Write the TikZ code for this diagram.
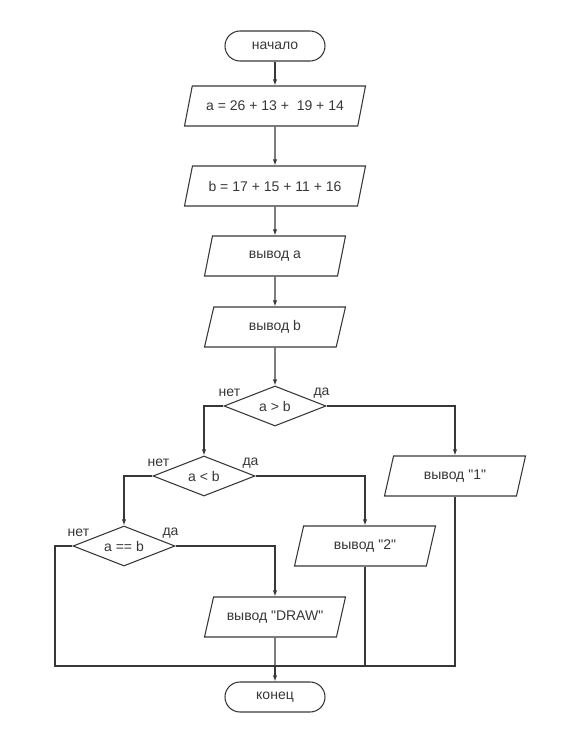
\documentclass[tikz,border=0pt]{standalone}
\usepackage{fontspec}
\setmainfont{Liberation Sans}
\usepackage{tikz}
\usetikzlibrary{arrows.meta,shapes.geometric}
\usepackage{xcolor}
\definecolor{linegray}{RGB}{55, 55, 55}

\begin{document}
\begin{tikzpicture}[x=0.75pt, y=-0.75pt, >={Latex[length=4.5pt,width=3.2pt]},
    every node/.style={font=\fontsize{10.5}{12}\selectfont, text=linegray},
    line/.style={draw=linegray, line width=0.8pt},
    term/.style={line, rectangle, rounded corners=11.25pt, minimum width=75pt, minimum height=22.5pt},
    io/.style={line, trapezium, trapezium left angle=63, trapezium right angle=117,
      trapezium stretches body, minimum width=105.75pt, minimum height=30pt, inner sep=2pt},
    iowide/.style={io, minimum width=135.75pt},
    cond/.style={line, diamond, aspect=2.55, inner sep=0pt, minimum width=76.5pt, minimum height=30pt},
    lbl/.style={inner sep=1pt}]
      \useasboundingbox (0,0) rectangle (581,748);
      % main column
      \node[term] (start) at (275, 46) {начало};
      \node[iowide] (seta) at (275, 106) {a = 26 + 13 + \ 19 + 14};
      \node[iowide] (setb) at (275, 186) {b = 17 + 15 + 11 + 16};
      \node[io] (outa) at (275, 256) {вывод a};
      \node[io] (outb) at (275, 327) {вывод b};
      \node[cond] (gt) at (275, 406) {a > b};
      \node[cond] (lt) at (204, 476) {a < b};
      \node[cond] (eq) at (124, 546) {a == b};
      \node[io] (out1) at (455, 476) {вывод \textquotedbl1\textquotedbl};
      \node[io] (out2) at (365, 546) {вывод \textquotedbl2\textquotedbl};
      \node[io] (outdraw) at (275, 617) {вывод \textquotedbl DRAW\textquotedbl};
      \node[term] (stop) at (275, 697) {конец};
      \coordinate (join) at (275, 666);
      \coordinate (joinleft) at (55, 666);
      % branch labels
      \node[lbl] (gtno) at ([shift={(6,-13)}]gt.west) {нет};
      \node[lbl] (gtyes) at ([shift={(-5,-13)}]gt.east) {да};
      \node[lbl] (ltno) at ([shift={(6,-13)}]lt.west) {нет};
      \node[lbl] (ltyes) at ([shift={(-5,-13)}]lt.east) {да};
      \node[lbl] (eqno) at ([shift={(6,-13)}]eq.west) {нет};
      \node[lbl] (eqyes) at ([shift={(-5,-13)}]eq.east) {да};
      % connectors
      \draw[line, ->] (start) -- (seta);
      \draw[line, ->] (seta) -- (setb);
      \draw[line, ->] (setb) -- (outa);
      \draw[line, ->] (outa) -- (outb);
      \draw[line, ->] (outb) -- (gt);
      \draw[line, ->] (gt.west) -| (lt.north);
      \draw[line, ->] (gt.east) -| (out1.north);
      \draw[line, ->] (lt.west) -| (eq.north);
      \draw[line, ->] (lt.east) -| (out2.north);
      \draw[line, ->] (eq.east) -| (outdraw.north);
      \draw[line] (eq.west) -| (joinleft) -- (join);
      \draw[line] (out1.south) |- (join);
      \draw[line] (out2.south) |- (join);
      \draw[line] (outdraw.south) -- (join);
      \draw[line, ->] (join) -- (stop);
    \end{tikzpicture}
\end{document}
